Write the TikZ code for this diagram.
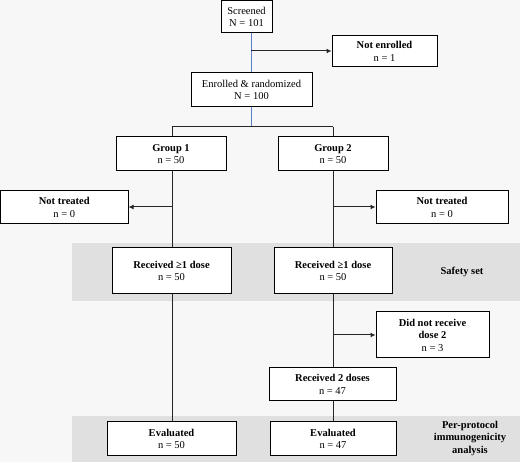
\documentclass[tikz,border=0pt]{standalone}
\usepackage{fontspec}
\setmainfont{Liberation Serif}
\usetikzlibrary{arrows.meta}
\definecolor{bg}{HTML}{F7F7F7}
\definecolor{band}{HTML}{E0E0E0}
\definecolor{blueline}{HTML}{5B7FC4}
\tikzset{
  box/.style={draw=black, line width=1pt, fill=white, inner sep=0pt, align=center, font=\fontsize{10.5}{12.5}\selectfont},
  conn/.style={line width=1pt, draw=black!85},
  bconn/.style={line width=1pt, draw=blueline},
  arr/.style={conn, -{Latex[length=5pt,width=5pt]}},
  lbl/.style={align=center, font=\fontsize{10.5}{12.5}\selectfont\bfseries},
}
\newcommand{\bx}[6]{\node[box, minimum width=#3-#1, minimum height=#4-#2] (#5) at ({(#1+#3)/2},{(#2+#4)/2}) {#6};}
\begin{document}
\begin{tikzpicture}[x=1pt,y=-1pt]
\fill[bg] (0,0) rectangle (520,462);
\useasboundingbox (0,0) rectangle (520,462);
\fill[band] (72,243) rectangle (520,301);
\fill[band] (72,416) rectangle (520,462);
% nodes
\bx{221}{1}{272}{33}{scr}{Screened\\N = 101}
\bx{332}{36}{437}{67}{ne}{\textbf{Not enrolled}\\n = 1}
\bx{191}{73}{312}{107}{enr}{Enrolled \& randomized\\N = 100}
\bx{116}{137}{226}{171}{g1}{\textbf{Group 1}\\n = 50}
\bx{278}{137}{388}{171}{g2}{\textbf{Group 2}\\n = 50}
\bx{0.5}{191}{128}{224}{nt1}{\textbf{Not treated}\\n = 0}
\bx{376}{191}{508}{224}{nt2}{\textbf{Not treated}\\n = 0}
\bx{112}{248}{231}{294}{r1}{\textbf{Received \symbol{"2265}1 dose}\\n = 50}
\bx{274}{248}{392}{294}{r2}{\textbf{Received \symbol{"2265}1 dose}\\n = 50}
\bx{376}{312}{489}{358}{dnr}{\textbf{Did not receive}\\\textbf{dose 2}\\n = 3}
\bx{269}{368}{396}{401}{r2d}{\textbf{Received 2 doses}\\n = 47}
\bx{107}{422}{236}{456}{ev1}{\textbf{Evaluated}\\n = 50}
\bx{270}{422}{396}{456}{ev2}{\textbf{Evaluated}\\n = 47}
\node[lbl] (ss) at (462,272) {Safety set};
\node[lbl] (pp) at (470,438) {Per-protocol\\immunogenicity\\analysis};
% coordinates
\coordinate (a1) at (251,51);
\coordinate (split) at (251,127);
\coordinate (sl) at (172,127);
\coordinate (sr) at (333,127);
\coordinate (b1) at (172,207);
\coordinate (b2) at (333,207);
\coordinate (c2) at (333,335);
% connectors
\draw[bconn] (scr.south -| a1) -- (enr.north -| a1);
\draw[arr] (a1) -- (ne.west |- a1);
\draw[bconn] (enr.south -| split) -- (split);
\draw[conn] (sl) -- (sr);
\draw[conn] (sl) -- (g1.north -| sl);
\draw[conn] (sr) -- (g2.north -| sr);
\draw[conn] (g1.south -| sl) -- (r1.north -| sl);
\draw[conn] (g2.south -| sr) -- (r2.north -| sr);
\draw[arr] (b1) -- (nt1.east |- b1);
\draw[arr] (b2) -- (nt2.west |- b2);
\draw[conn] (r1.south -| sl) -- (ev1.north -| sl);
\draw[conn] (r2.south -| sr) -- (r2d.north -| sr);
\draw[arr] (c2) -- (dnr.west |- c2);
\draw[conn] (r2d.south -| sr) -- (ev2.north -| sr);
\end{tikzpicture}
\end{document}
